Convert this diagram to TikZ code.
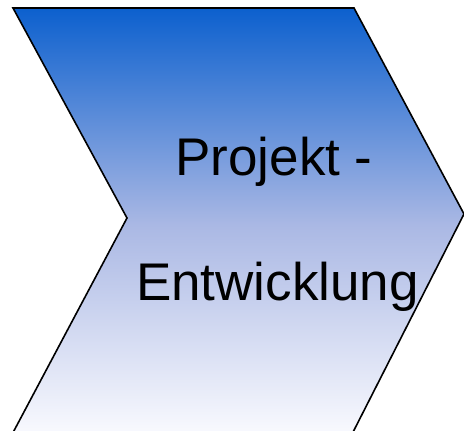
\documentclass[tikz,border=0pt]{standalone}
\usepackage{fontspec}
\setmainfont{Liberation Sans}
\begin{document}
\begin{tikzpicture}[x=1pt,y=-1pt,
  chevronfill/.style={top color={rgb,255:red,12;green,96;blue,206}, bottom color={rgb,255:red,252;green,252;blue,255}, middle color={rgb,255:red,170;green,184;blue,228}},
  label/.style={font=\fontsize{53}{60}\selectfont, inner sep=0pt, anchor=base}]
  \useasboundingbox (0,0) rectangle (464,431);
  \clip (0,0) rectangle (464,431);
  % chevron body, open below the frame
  \coordinate (tl) at (13,8);
  \coordinate (tr) at (354,8);
  \coordinate (tip) at (464,214);
  \coordinate (br) at (348,442);
  \coordinate (bl) at (8,442);
  \coordinate (notch) at (127,218);
  \shade[chevronfill] (tl) -- (tr) -- (tip) -- (br) -- (bl) -- (notch) -- cycle;
  \draw[line width=1.6pt, line join=miter] (bl) -- (notch) -- (tl) -- (tr) -- (tip) -- (br);
  \node[label] (l1) at (274,175) {Projekt -};
  \node[label] (l2) at (277.5,300) {Entwicklung};
\end{tikzpicture}
\end{document}
